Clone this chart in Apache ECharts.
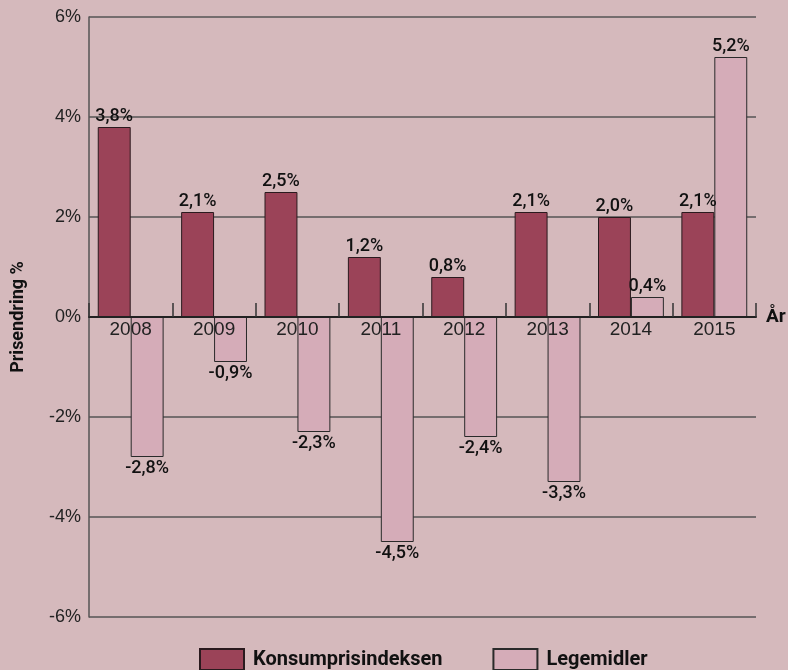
<!DOCTYPE html>
<html>
<head>
<meta charset="utf-8">
<script src="https://cdn.jsdelivr.net/npm/echarts@6/dist/echarts.min.js"></script>
<style>
  html, body { margin: 0; padding: 0; background: #d5b9bc; }
  #chart { width: 788px; height: 670px; }
</style>
</head>
<body>
<div id="chart"></div>
<script>
var years = ['2008', '2009', '2010', '2011', '2012', '2013', '2014', '2015'];
var kpi = [3.8, 2.1, 2.5, 1.2, 0.8, 2.1, 2.0, 2.1];
var legemidler = [-2.8, -0.9, -2.3, -4.5, -2.4, -3.3, 0.4, 5.2];
var seriesNames = ['Konsumprisindeksen', 'Legemidler'];

function fmt(v) {
    return String(v.toFixed(1)).replace('.', ',') + '%';
}

function withLabels(arr) {
    return arr.map(function(v) {
        return { value: v, label: { position: v < 0 ? 'bottom' : 'top' } };
    });
}

var labelStyle = {
    show: true,
    fontFamily: 'Roboto',
    fontWeight: 500,
    fontSize: 18,
    color: '#111',
    distance: 2,
    formatter: function(p) { return fmt(p.value); }
};

var myChart = echarts.init(document.getElementById('chart'));
var option = {
    backgroundColor: '#d5b9bc',
    animation: false,
    grid: { left: 89, right: 32, top: 17, bottom: 53, outerBoundsMode: 'none', containLabel: false },
    legend: {
        top: 643,
        left: 194,
        icon: 'rect',
        itemWidth: 44,
        itemHeight: 21,
        itemGap: 50,
        textStyle: { fontFamily: 'Roboto', fontWeight: 'bold', fontSize: 20, color: '#111', padding: [0, 0, 0, 4] },
        data: seriesNames
    },
    xAxis: {
        type: 'category',
        data: years,
        position: 'bottom',
        offset: -300,
        z: 5,
        name: 'År',
        nameLocation: 'end',
        nameGap: 10,
        nameTextStyle: { fontFamily: 'Roboto', fontWeight: 'bold', fontSize: 19, color: '#111' },
        axisLine: { onZero: false, lineStyle: { color: '#222', width: 2 } },
        axisTick: { show: true, inside: true, length: 14, lineStyle: { color: '#333', width: 1.5 } },
        axisLabel: { margin: 3, fontFamily: 'Liberation Sans', fontSize: 19, color: '#222' }
    },
    yAxis: {
        type: 'value',
        min: -6,
        max: 6,
        interval: 2,
        name: 'Prisendring %',
        nameLocation: 'middle',
        nameGap: 62,
        nameTextStyle: { fontFamily: 'Roboto', fontWeight: 'bold', fontSize: 18, color: '#111' },
        axisLine: { show: true, lineStyle: { color: '#555', width: 1.5 } },
        axisTick: { show: false },
        axisLabel: {
            margin: 8,
            fontFamily: 'Liberation Sans',
            fontSize: 18,
            color: '#222',
            formatter: function(v) { return v + '%'; }
        },
        splitLine: { lineStyle: { color: '#555', width: 1.5 } }
    },
    series: [{
        name: seriesNames[0],
        type: 'bar',
        data: withLabels(kpi),
        barGap: '0%',
        barCategoryGap: '21%',
        itemStyle: { color: '#9b4358', borderColor: '#2a1a1e', borderWidth: 1 },
        label: labelStyle
    }, {
        name: seriesNames[1],
        type: 'bar',
        data: withLabels(legemidler),
        barGap: '0%',
        barCategoryGap: '21%',
        itemStyle: { color: '#d5acb8', borderColor: '#2a2a2a', borderWidth: 1 },
        label: labelStyle
    }]
};
myChart.setOption(option);
</script>
</body>
</html>
